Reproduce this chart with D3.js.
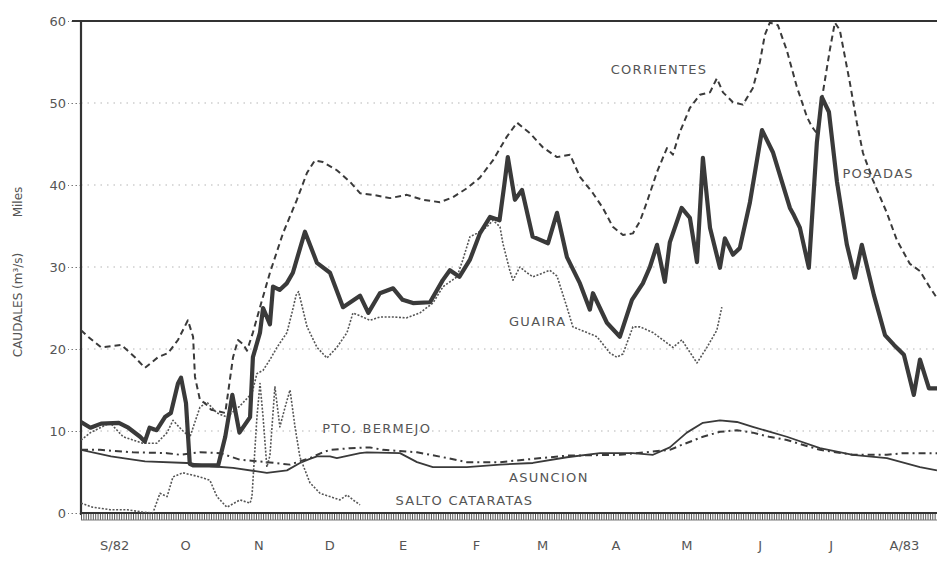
<!DOCTYPE html>
<html>
<head>
<meta charset="utf-8">
<script src="https://cdn.jsdelivr.net/npm/d3@7"></script>
<style>
  html, body { margin: 0; padding: 0; background: #fff; }
  svg { display: block; }
  text { font-family: "DejaVu Sans", sans-serif; fill: #555; }
</style>
</head>
<body>
<svg id="chart" width="937" height="564"></svg>
<script>
// Daily discharge, Sept 1982 - Aug 1983, thousands of m3/s.
// Each point: [days since 1 Sept 1982, discharge].
const monthLabels = ["S/82", "O", "N", "D", "E", "F", "M", "A", "M", "J", "J", "A/83"];
const yTicks = [0, 10, 20, 30, 40, 50, 60];

const posadas = [
  [0,11.1],[4,10.4],[8.5,10.9],[16,11.0],[20,10.4],[25,9.3],[27,8.7],[29,10.4],[32,10.1],
  [35.5,11.7],[38,12.2],[41,15.8],[42.3,16.5],[44.4,13.4],[46,6.0],[47.4,5.8],[58,5.8],
  [61,9.3],[64,14.4],[67,9.8],[71.5,11.7],[72.7,19],[75.7,22],[77,25],[79.9,23],[81.2,27.6],
  [84,27.2],[87,28],[89.6,29.3],[94.7,34.3],[99.8,30.5],[105.3,29.3],[110.8,25.1],[118,26.5],
  [121.5,24.4],[126.4,26.8],[132,27.4],[136,26],[140.4,25.6],[147.6,25.7],[153,28.4],[156,29.6],
  [160,28.8],[164.5,30.9],[168.7,34.1],[173,36.1],[177,35.7],[179,40],[180.5,43.4],[183.5,38.2],
  [186.5,39.4],[191,33.7],[197.5,32.9],[201.3,36.6],[205.5,31.2],[211,28],[215.2,24.8],
  [216.5,26.8],[222.4,23.2],[227.9,21.5],[233,26],[237.6,28],[240.6,30],[243.6,32.7],
  [246.9,28.2],[249,33],[254,37.2],[257.5,36],[260.5,30.6],[263,43.3],[266,34.8],[270.2,29.9],
  [272.3,33.5],[275.7,31.5],[278.6,32.3],[282.9,37.9],[288,46.7],[292.6,44],[299.8,37.2],
  [301.5,36.3],[304,34.8],[307.8,29.9],[311.2,45.2],[313.3,50.7],[316.3,48.9],[319.7,40.4],
  [323.9,32.7],[327.3,28.7],[330.2,32.7],[335.3,26.6],[340,21.7],[343.8,20.5],[348,19.3],
  [352.2,14.4],[354.8,18.7],[358.6,15.2],[362,15.2]
];

const corrientes = [
  [0,22.3],[3,21.5],[8.5,20.2],[17,20.5],[22.8,19],[27,17.7],[32.6,19],[36.8,19.5],[41,21.1],
  [45.2,23.5],[47.4,21.5],[48.2,16.6],[50.3,13.8],[52.4,13.4],[55,12.6],[61,12.2],[64.3,19],
  [66.4,21.1],[68.5,20.6],[70.2,19.8],[72.7,22],[75.7,25.1],[79.9,29.3],[85.4,34.1],[91.3,38.2],
  [95.6,41.5],[98.9,43],[102.3,42.8],[108.2,41.8],[113.7,40.4],[118,39],[123.5,38.8],
  [130.7,38.4],[137.8,38.8],[144.6,38.2],[151.8,37.9],[157.3,38.5],[163.2,39.6],[168.7,40.9],
  [174.2,43],[180.1,45.9],[184.4,47.6],[189.9,46.3],[195.3,44.6],[201.3,43.4],[206.8,43.7],
  [211,41],[216.5,39],[220.7,37.2],[224.9,34.9],[229.2,33.9],[233.4,34.1],[236.4,35.6],
  [239.3,37.9],[243.6,41.6],[247.8,44.5],[250.3,43.7],[253.3,46.5],[257.5,49.4],[261.7,51],
  [266,51.3],[268.9,53],[271.5,51.3],[275.7,50.1],[279.9,49.8],[284.1,51.8],[287.1,55],
  [289.2,58.3],[291.3,59.8],[294.7,59.5],[298.5,56.4],[302.7,52],[307,48.3],[309.1,47.1],
  [311.2,46.3],[313.7,51.2],[316.7,56.5],[318.8,59.8],[320.9,58.9],[325.2,52.4],[328.1,47.6],
  [330.7,43.9],[334.9,40.6],[340.8,36.6],[345,33.3],[350.5,30.4],[354.8,29.5],[359,27.5],[362,26.2]
];

const guaira = [
  [0,8.9],[4,9.8],[12.3,11],[17.8,9.3],[22,8.9],[26.2,8.5],[32,8.5],[36.4,9.8],[38.9,11.3],
  [42.7,10.1],[46.1,9.3],[50.3,12.9],[53.3,13.5],[57.5,12.2],[61.7,11.7],[67,13],[72.3,14.6],
  [74.4,17],[77,17.4],[79.9,18.7],[82.9,20.2],[85,21.1],[87.1,22],[89.2,24.4],[91,26.6],[92,27],
  [95.6,22.7],[99.8,20.2],[104,18.9],[108.2,20.2],[112.5,22],[115,24.4],[119.2,23.9],[122.2,23.5],
  [126.4,23.9],[131.9,23.9],[137.8,23.8],[143.3,24.4],[148.8,25.6],[153.1,27.6],[159,28.8],
  [161.5,30.9],[164.5,33.7],[167.4,34.1],[171.7,34.9],[174.2,35.7],[177.2,34.9],[178.4,32.9],
  [181.4,29.5],[182.7,28.4],[185.6,30],[188.6,29.3],[191.1,28.8],[198.3,29.6],[201.3,28.9],
  [205.5,25.1],[208,22.7],[214,22],[218.2,21.5],[223.7,19.5],[226.6,19],[229.2,19.4],
  [233.4,22.7],[236.4,22.7],[241.9,22],[250.3,20.2],[254.1,21.1],[260.5,18.3],[264.7,20.2],
  [268.9,22.3],[271,25.1]
];

const saltoCataratas = [
  [0,1.2],[5,0.7],[12.3,0.4],[19.5,0.4],[26.2,0.1],[30.4,0],[33.4,2.4],[36.4,2],[38.9,4.4],
  [43.1,4.9],[50.3,4.4],[54.5,4],[57.5,2],[61.7,0.7],[67.2,1.6],[71.5,1.2],[72.3,2],[74.4,11.7],
  [75.7,15.8],[77,11.7],[78.6,5.6],[79.9,7],[82,15.4],[84.1,10.5],[86.3,12.9],[88.4,15],
  [90.5,10.5],[92.6,6.8],[96.8,3.7],[101.1,2.4],[105.3,2],[109.5,1.6],[112.5,2.2],[115,1.6],[118,1]
];

const asuncion = [
  [0,7.7],[12.7,6.9],[22,6.5],[27.1,6.3],[44.8,6.1],[55,5.7],[64.3,5.5],[78.6,4.9],[87.1,5.2],
  [92.6,6.1],[96.8,6.6],[99.8,6.9],[105.3,6.9],[108.2,6.7],[118,7.3],[120.9,7.4],[134.9,7.3],
  [142.1,6.2],[148.8,5.6],[163.2,5.6],[177.2,5.9],[191.1,6.1],[205.5,6.8],[219.5,7.3],
  [233.4,7.3],[241.9,7.1],[249,8],[256.2,9.8],[263,11],[270.2,11.3],[277.4,11.1],[284.1,10.5],
  [298.5,9.3],[312.5,7.9],[326.4,7.1],[340.8,6.7],[354.8,5.6],[362,5.2]
];

const ptoBermejo = [
  [0,7.7],[8,7.7],[22,7.4],[36.4,7.3],[41.9,7.1],[50.3,7.4],[58.8,7.3],[67.2,6.5],[78.6,6.2],
  [88.4,5.9],[96.8,6.7],[102.3,7.4],[105.3,7.7],[113.7,7.9],[122.2,8],[127.7,7.7],[142.1,7.4],
  [153.1,6.8],[163.2,6.2],[177.2,6.2],[191.1,6.6],[205.5,7],[227.9,7.1],[249,7.7],[254,8.3],
  [263,9.3],[270.2,9.9],[277.4,10.1],[284.1,9.8],[291,9.3],[298.5,8.9],[312.5,7.7],[326.4,7.1],
  [340.8,7.1],[347.7,7.3],[354.8,7.3],[362,7.3]
];

const seriesLabels = [
  { text: "CORRIENTES", day: 224, value: 54.1 },
  { text: "POSADAS", day: 322, value: 41.4 },
  { text: "GUAIRA", day: 181, value: 23.3 },
  { text: "PTO. BERMEJO", day: 102, value: 10.3 },
  { text: "ASUNCION", day: 181, value: 4.3 },
  { text: "SALTO CATARATAS", day: 133, value: 1.5 }
];

const start = new Date(1982, 8, 1);
const end = new Date(1983, 7, 29);
const dayToDate = d => new Date(start.getTime() + d * 864e5);

const svg = d3.select("#chart");
const plotLeft = 81, plotRight = 937, plotTop = 21, plotBottom = 513;

const x = d3.scaleTime().domain([start, end]).range([plotLeft, plotRight]);
const y = d3.scaleLinear().domain([0, 60]).range([plotBottom, plotTop]);

// clip for the plotting area
svg.append("defs").append("clipPath").attr("id", "plot")
  .append("rect").attr("x", plotLeft).attr("y", plotTop)
  .attr("width", plotRight - plotLeft).attr("height", plotBottom - plotTop);

// faint dotted gridlines
svg.append("g").selectAll("line")
  .data(yTicks.filter(v => v > 0 && v < 60))
  .join("line")
  .attr("x1", plotLeft).attr("x2", plotRight)
  .attr("y1", d => y(d)).attr("y2", d => y(d))
  .attr("stroke", "#b5b5b5").attr("stroke-width", 1.2)
  .attr("stroke-dasharray", "1.5,5");

// y axis
const yAxis = svg.append("g").attr("transform", `translate(${plotLeft},0)`)
  .call(d3.axisLeft(y).tickValues(yTicks).tickSize(13).tickPadding(2));
yAxis.select(".domain").remove();
yAxis.selectAll(".tick line").attr("stroke", "#777").attr("stroke-dasharray", "1.5,2.5");
yAxis.selectAll(".tick text").style("font-size", "13px").attr("fill", "#555")
  .style("font-family", "DejaVu Sans, sans-serif");

svg.append("line").attr("x1", plotLeft).attr("x2", plotLeft)
  .attr("y1", plotTop).attr("y2", plotBottom + 2)
  .attr("stroke", "#333").attr("stroke-width", 2.2);
svg.append("line").attr("x1", plotLeft - 9).attr("x2", plotRight)
  .attr("y1", plotTop).attr("y2", plotTop)
  .attr("stroke", "#333").attr("stroke-width", 2.2);

// daily tick hatching along the time axis
const dayAxis = svg.append("g").attr("transform", `translate(0,${plotBottom})`)
  .call(d3.axisBottom(x).ticks(d3.timeDay.every(1)).tickSize(7).tickFormat(""));
dayAxis.select(".domain").remove();
dayAxis.selectAll(".tick line").attr("stroke", "#555").attr("stroke-width", 1);
svg.append("line").attr("x1", plotLeft).attr("x2", plotRight)
  .attr("y1", plotBottom).attr("y2", plotBottom)
  .attr("stroke", "#333").attr("stroke-width", 2.2);
svg.append("line").attr("x1", plotLeft).attr("x2", plotRight)
  .attr("y1", plotBottom + 7).attr("y2", plotBottom + 7)
  .attr("stroke", "#777").attr("stroke-width", 1);

// month labels centred mid-month
const monthMids = d3.timeMonth.range(start, end).map(m => d3.timeDay.offset(m, 14));
const monthAxis = svg.append("g").attr("transform", `translate(0,${plotBottom})`)
  .call(d3.axisBottom(x).tickValues(monthMids).tickSize(0).tickPadding(28)
    .tickFormat((d, i) => monthLabels[i]));
monthAxis.select(".domain").remove();
monthAxis.selectAll(".tick text").style("font-size", "13px").attr("fill", "#555")
  .style("font-family", "DejaVu Sans, sans-serif");

// axis titles
svg.append("text").attr("transform", "translate(22,202) rotate(-90)")
  .attr("text-anchor", "middle").style("font-size", "12px").text("Miles");
svg.append("text").attr("transform", "translate(22,305) rotate(-90)")
  .attr("text-anchor", "middle").style("font-size", "12px").text("CAUDALES (m³/s)");

// series
const line = d3.line().x(d => x(dayToDate(d[0]))).y(d => y(d[1]));
const plot = svg.append("g").attr("clip-path", "url(#plot)");
const styles = [
  { data: asuncion, width: 1.8, color: "#3a3a3a", dash: null },
  { data: ptoBermejo, width: 2, color: "#3a3a3a", dash: "7,4,2,4" },
  { data: saltoCataratas, width: 1.6, color: "#555", dash: "2,1.6" },
  { data: guaira, width: 1.6, color: "#555", dash: "2,1.6" },
  { data: corrientes, width: 2, color: "#3a3a3a", dash: "6,4" },
  { data: posadas, width: 4.2, color: "#3a3a3a", dash: null }
];
plot.selectAll("path.series").data(styles).join("path")
  .attr("class", "series")
  .attr("d", s => line(s.data))
  .attr("fill", "none")
  .attr("stroke", s => s.color)
  .attr("stroke-width", s => s.width)
  .attr("stroke-dasharray", s => s.dash)
  .attr("stroke-linejoin", "round");

// series names
svg.append("g").selectAll("text").data(seriesLabels).join("text")
  .attr("x", d => x(dayToDate(d.day)))
  .attr("y", d => y(d.value))
  .attr("dy", "0.35em")
  .style("font-size", "13px")
  .style("letter-spacing", "1.3px")
  .text(d => d.text);
</script>
</body>
</html>
